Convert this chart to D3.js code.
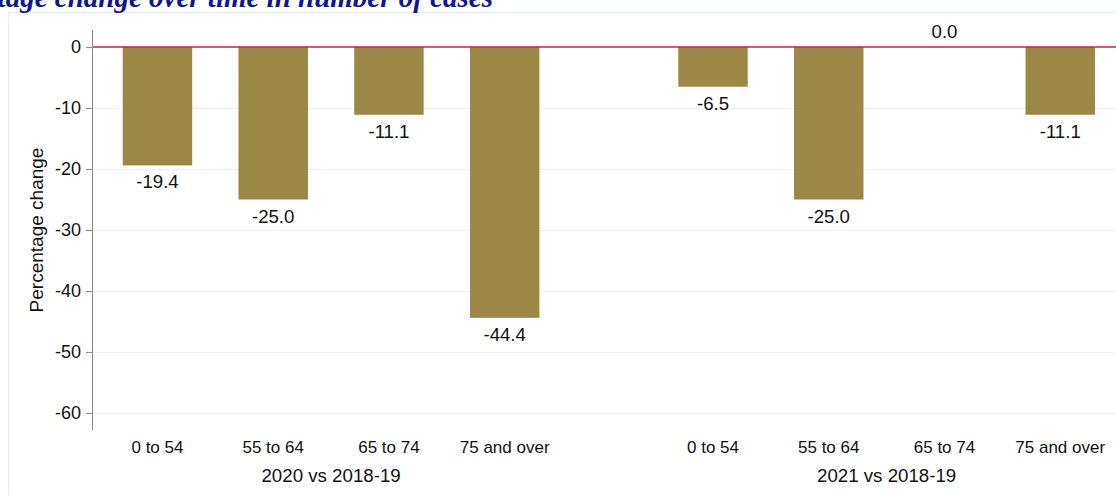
<!DOCTYPE html>
<html>
<head>
<meta charset="utf-8">
<script src="https://cdn.jsdelivr.net/npm/d3@7"></script>
<style>
  body { margin: 0; background: #fff; }
  svg { display: block; font-family: Arial, "Liberation Sans", sans-serif; }
</style>
</head>
<body>
<svg id="chart" width="1116" height="495"></svg>
<script>
var groups = ["2020 vs 2018-19", "2021 vs 2018-19"]
var ageBands = ["0 to 54", "55 to 64", "65 to 74", "75 and over"]
var change2020 = [-19.4, -25.0, -11.1, -44.4]
var change2021 = [-6.5, -25.0, 0.0, -11.1]
var yTicks = [0, -10, -20, -30, -40, -50, -60]

var series = [change2020, change2021]
var rows = []
groups.forEach(function(g, gi) {
    ageBands.forEach(function(a, ai) {
        rows.push({ group: g, band: a, value: series[gi][ai] })
    })
})

var svg = d3.select("#chart")
var W = 1116, H = 495
var axisX = 92

// light frame round the plot panel
svg.append("line").attr("x1", 8).attr("x2", W).attr("y1", 12.5).attr("y2", 12.5)
    .attr("stroke", "#e6ecef").attr("stroke-width", 1)
svg.append("line").attr("x1", 8.5).attr("x2", 8.5).attr("y1", 12).attr("y2", H)
    .attr("stroke", "#e6ecef").attr("stroke-width", 1)

// title, cut off at the top left like the source
svg.append("text")
    .attr("x", 493).attr("y", 7)
    .attr("text-anchor", "end")
    .attr("font-family", "'Liberation Serif', 'DejaVu Serif', serif")
    .attr("font-style", "italic").attr("font-weight", "bold")
    .attr("font-size", 29).attr("fill", "#12168c")
    .text("Percentage change over time in number of cases")

var y = d3.scaleLinear().domain([-62.8, 2.8]).range([430, 30])

var x0 = d3.scaleBand().domain(groups).range([99.6, 1118.1]).paddingInner(1 / 6).paddingOuter(0)
var x1 = d3.scaleBand().domain(ageBands).range([0, x0.bandwidth()]).paddingInner(0.4).paddingOuter(0.2)

// gridlines
svg.append("g").selectAll("line").data(yTicks.filter(function(d) { return d !== 0 }))
    .enter().append("line")
    .attr("x1", axisX).attr("x2", W)
    .attr("y1", function(d) { return Math.round(y(d)) + 0.5 })
    .attr("y2", function(d) { return Math.round(y(d)) + 0.5 })
    .attr("stroke", "#edf1f5").attr("stroke-width", 1)

// bars
svg.append("g").selectAll("rect").data(rows).enter().append("rect")
    .attr("x", function(d) { return x0(d.group) + x1(d.band) })
    .attr("width", x1.bandwidth())
    .attr("y", function(d) { return y(Math.max(0, d.value)) })
    .attr("height", function(d) { return Math.abs(y(d.value) - y(0)) })
    .attr("fill", "#9b8746")

// value labels
svg.append("g").selectAll("text").data(rows).enter().append("text")
    .attr("x", function(d) { return x0(d.group) + x1(d.band) + x1.bandwidth() / 2 })
    .attr("y", function(d) { return d.value < 0 ? y(d.value) + 23 : y(d.value) - 9 })
    .attr("text-anchor", "middle")
    .attr("font-size", 18.6).attr("fill", "#111")
    .text(function(d) { return d.value.toFixed(1) })

// zero line
svg.append("line").attr("x1", axisX).attr("x2", W)
    .attr("y1", y(0)).attr("y2", y(0))
    .attr("stroke", "#c81e48").attr("stroke-width", 1.5)

// y axis, plain hyphen for the minus like the source
var yAxis = d3.axisLeft(y).tickValues(yTicks).tickSize(6).tickPadding(5).tickFormat(function(d) { return String(d) })
var ga = svg.append("g").attr("transform", "translate(" + axisX + ",0)").call(yAxis)
ga.select(".domain").attr("stroke", "#8a8a8a").attr("d", "M0.5," + y.range()[1] + "V" + y.range()[0])
ga.selectAll(".tick line").attr("stroke", "#8a8a8a")
ga.selectAll(".tick text").attr("font-size", 18).attr("fill", "#111").attr("font-family", "Arial, 'Liberation Sans', sans-serif")

svg.append("text")
    .attr("transform", "translate(43,230) rotate(-90)")
    .attr("text-anchor", "middle")
    .attr("font-size", 19).attr("fill", "#111")
    .text("Percentage change")

// category labels
svg.append("g").selectAll("text").data(rows).enter().append("text")
    .attr("x", function(d) { return x0(d.group) + x1(d.band) + x1.bandwidth() / 2 })
    .attr("y", 452.5)
    .attr("text-anchor", "middle")
    .attr("font-size", 17).attr("fill", "#111")
    .text(function(d) { return d.band })

// group labels
svg.append("g").selectAll("text").data(groups).enter().append("text")
    .attr("x", function(d) { return x0(d) + x0.bandwidth() / 2 })
    .attr("y", 481.5)
    .attr("text-anchor", "middle")
    .attr("font-size", 18.7).attr("fill", "#111")
    .text(function(d) { return d })
</script>
</body>
</html>
